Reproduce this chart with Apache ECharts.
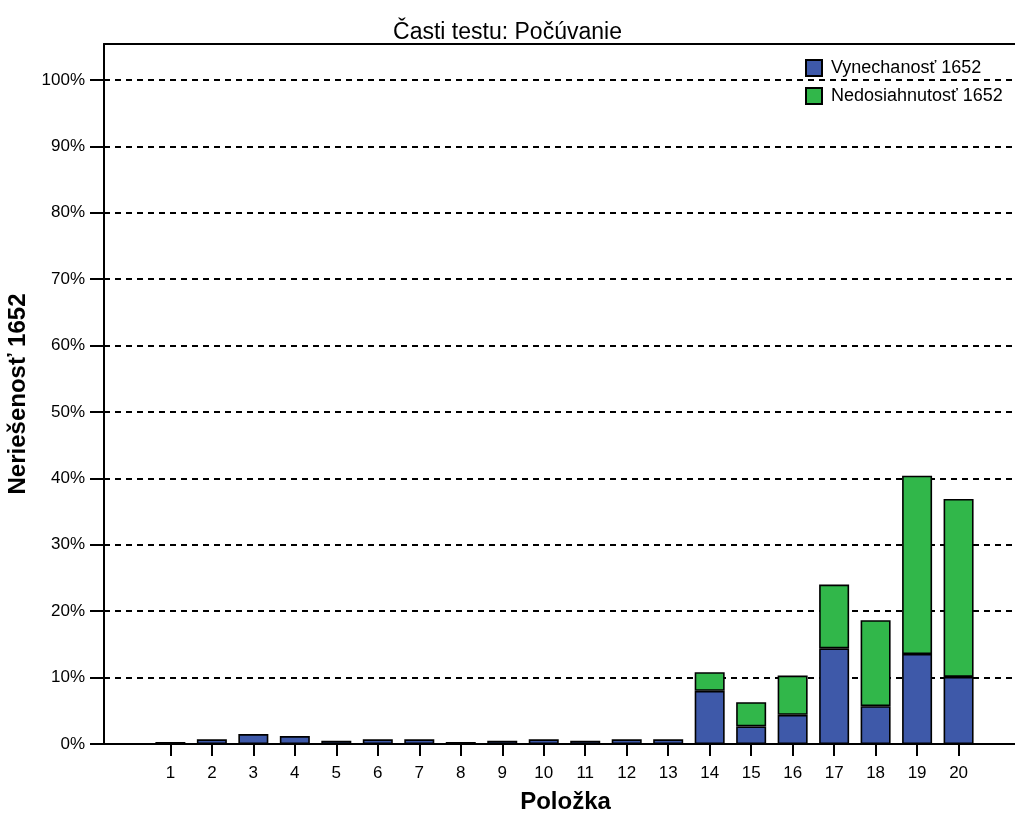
<!DOCTYPE html>
<html>
<head>
<meta charset="utf-8">
<title>Časti testu: Počúvanie</title>
<script src="https://cdn.jsdelivr.net/npm/echarts@6/dist/echarts.min.js"></script>
<style>
  html, body { margin: 0; padding: 0; background: #fff; }
  #chart { width: 1015px; height: 814px; }
</style>
</head>
<body>
<div id="chart"></div>
<script>
// items (Položka)
const items = [1, 2, 3, 4, 5, 6, 7, 8, 9, 10, 11, 12, 13, 14, 15, 16, 17, 18, 19, 20];
// % omitted
const vynechanost = [0.3, 0.7, 1.5, 1.2, 0.5, 0.7, 0.7, 0.3, 0.5, 0.7, 0.5, 0.7, 0.7, 8.0, 2.65, 4.4, 14.4, 5.7, 13.55, 10.1];
// % not reached
const nedosiahnutost = [0, 0, 0, 0, 0, 0, 0, 0, 0, 0, 0, 0, 0, 2.8, 3.65, 5.9, 9.6, 12.95, 26.85, 26.8];
const yTicks = [0, 10, 20, 30, 40, 50, 60, 70, 80, 90, 100];

const font = "'Liberation Sans', Arial, sans-serif";
const blue = "#3e59a9";
const green = "#31b74a";

const chart = echarts.init(document.getElementById("chart"));

// value first, item second -> the stack is applied to the value dimension
const toPairs = (vals) => items.map((x, i) => [vals[i] > 0 ? vals[i] : null, x]);

const option = {
  animation: false,
  textStyle: { fontFamily: font },
  title: {
    text: "Časti testu: Počúvanie",
    left: "center",
    top: 16,
    textStyle: { fontFamily: font, fontSize: 23, fontWeight: "normal", color: "#000" }
  },
  legend: {
    orient: "vertical",
    left: 800,
    top: 54,
    icon: "rect",
    itemWidth: 16,
    itemHeight: 16,
    itemGap: 10,
    textStyle: { fontFamily: font, fontSize: 18, color: "#000", padding: [0, 0, 0, 4] },
    data: ["Vynechanosť 1652", "Nedosiahnutosť 1652"]
  },
  grid: { left: 104, top: 44, right: 0, bottom: 70, outerBoundsMode: "none" },
  xAxis: [
    {
      type: "value",
      min: -0.6,
      max: 21.36,
      name: "Položka",
      nameLocation: "middle",
      nameGap: 46,
      nameTextStyle: { fontFamily: font, fontSize: 24, fontWeight: "bold", color: "#000", padding: [0, 0, 0, 12] },
      axisLine: { onZero: false, lineStyle: { color: "#000", width: 2 } },
      axisTick: { show: true, length: 12, lineStyle: { color: "#000", width: 2 }, customValues: items },
      axisLabel: { fontSize: 17, color: "#000", margin: 21, customValues: items },
      splitLine: { show: false }
    },
    {
      type: "value",
      position: "top",
      min: -0.6,
      max: 21.36,
      axisLine: { show: true, onZero: false, lineStyle: { color: "#000", width: 2 } },
      axisTick: { show: false },
      axisLabel: { show: false },
      splitLine: { show: false }
    }
  ],
  yAxis: {
    type: "value",
    min: 0,
    max: 105.4,
    name: "Neriešenosť 1652",
    nameLocation: "middle",
    nameGap: 72,
    nameTextStyle: { fontFamily: font, fontSize: 24, fontWeight: "bold", color: "#000" },
    axisLine: { show: true, onZero: false, lineStyle: { color: "#000", width: 2 } },
    axisTick: { show: true, length: 14, lineStyle: { color: "#000", width: 2 }, customValues: yTicks },
    axisLabel: { fontSize: 17, color: "#000", margin: 19, customValues: yTicks, formatter: "{value}%" },
    splitLine: {
      show: true,
      lineStyle: { color: "#000", width: 1.8, type: [6, 5] }
    }
  },
  series: [
    {
      name: "Vynechanosť 1652",
      type: "bar",
      stack: "total",
      barWidth: 30,
      encode: { x: 1, y: 0 },
      data: toPairs(vynechanost),
      itemStyle: { color: blue, borderColor: "#000", borderWidth: 1.6 }
    },
    {
      name: "Nedosiahnutosť 1652",
      type: "bar",
      stack: "total",
      barWidth: 30,
      encode: { x: 1, y: 0 },
      data: toPairs(nedosiahnutost),
      itemStyle: { color: green, borderColor: "#000", borderWidth: 1.6 }
    }
  ]
};

chart.setOption(option);
</script>
</body>
</html>
